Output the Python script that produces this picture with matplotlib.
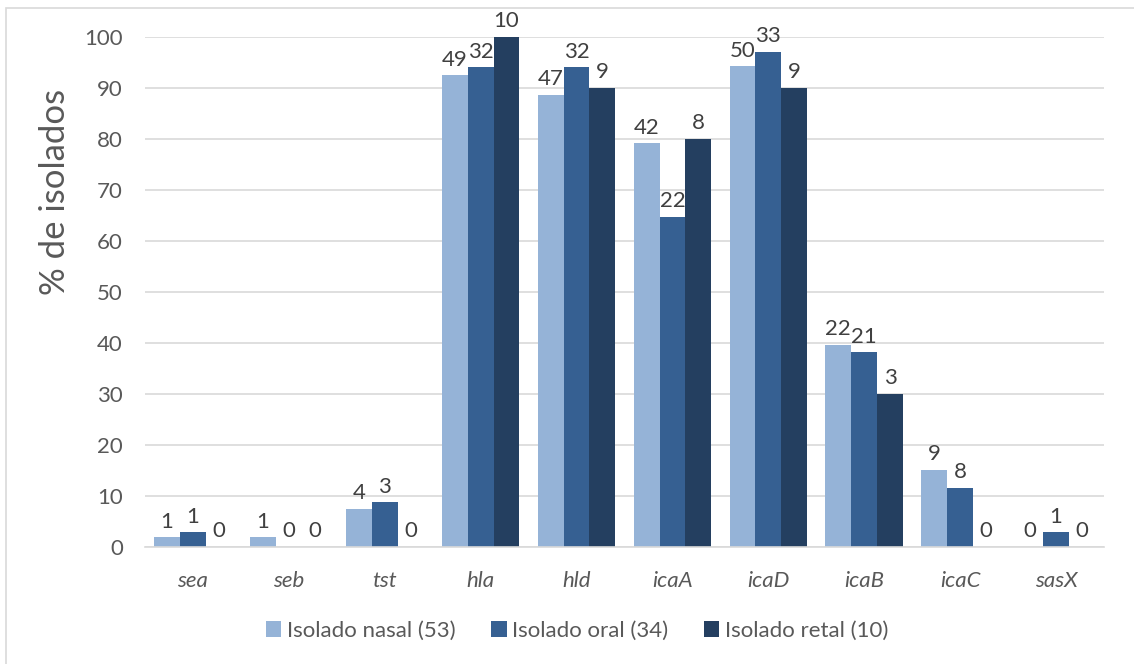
import matplotlib
matplotlib.use("Agg")
import matplotlib.pyplot as plt
from matplotlib.patches import Rectangle
import numpy as np

plt.rcParams['font.family'] = ['Lato', 'DejaVu Sans']

genes = ["sea", "seb", "tst", "hla", "hld", "icaA", "icaD", "icaB", "icaC", "sasX"]
series_names = ["Isolado nasal (53)", "Isolado oral (34)", "Isolado retal (10)"]
nasal_pct = [1.9, 1.9, 7.5, 92.5, 88.7, 79.2, 94.3, 39.6, 15.1, 0.0]
oral_pct = [2.9, 0.0, 8.8, 94.1, 94.1, 64.7, 97.1, 38.2, 11.6, 2.9]
retal_pct = [0.0, 0.0, 0.0, 100.0, 90.0, 80.0, 90.0, 30.0, 0.0, 0.0]
nasal_n = [1, 1, 4, 49, 47, 42, 50, 22, 9, 0]
oral_n = [1, 0, 3, 32, 32, 22, 33, 21, 8, 1]
retal_n = [0, 0, 0, 10, 9, 8, 9, 3, 0, 0]
colors = ["#95B3D7", "#366092", "#243F60"]

W, H = 1134, 664
fig = plt.figure(figsize=(W / 100, H / 100), dpi=100)
# outer chart border
fig.patches.append(Rectangle((6 / W, -0.1), 1.2, 1.1 - 8 / H, transform=fig.transFigure,
                             fill=False, edgecolor="#D9D9D9", linewidth=1.2))

ax = fig.add_axes([145 / W, 1 - 547 / H, (1104 - 145) / W, (547 - 37) / H])
x = np.arange(len(genes))
bw = 0.27
vals = [nasal_pct, oral_pct, retal_pct]
labs = [nasal_n, oral_n, retal_n]
for i in range(3):
    pos = x + (i - 1) * bw
    ax.bar(pos, vals[i], width=bw, color=colors[i], label=series_names[i], zorder=3)
    for p, v, n in zip(pos, vals[i], labs[i]):
        ax.annotate(str(n), (p, v), xytext=(0, 4), textcoords="offset points",
                    ha="center", va="bottom", fontsize=16, color="#404040",
                    annotation_clip=False, zorder=4)

ax.set_xlim(-0.5, len(genes) - 0.5)
ax.set_ylim(0, 100)
ax.set_yticks(np.arange(0, 101, 10))
ax.grid(axis="y", color="#D9D9D9", linewidth=1.2, zorder=0)
for s in ["top", "right", "left"]:
    ax.spines[s].set_visible(False)
ax.spines["bottom"].set_color("#D9D9D9")
ax.spines["bottom"].set_linewidth(1.2)
ax.spines["bottom"].set_zorder(3.5)
ax.tick_params(axis="both", length=0, labelsize=16, labelcolor="#595959")
ax.tick_params(axis="y", pad=16)
ax.tick_params(axis="x", pad=17)
ax.set_xticks(x)
ax.set_xticklabels(genes, fontstyle="italic")

fig.text(55 / W, 1 - 192 / H, "% de isolados", rotation=90, ha="center", va="center",
         fontsize=25, color="#595959")

fig.legend(loc="center", bbox_to_anchor=(577 / W, 1 - 631 / H), ncol=3, frameon=False,
           fontsize=16, handlelength=0.7, handleheight=0.7, handletextpad=0.25,
           columnspacing=1.6, labelcolor="#595959")

fig.savefig("out.png", dpi=100)
